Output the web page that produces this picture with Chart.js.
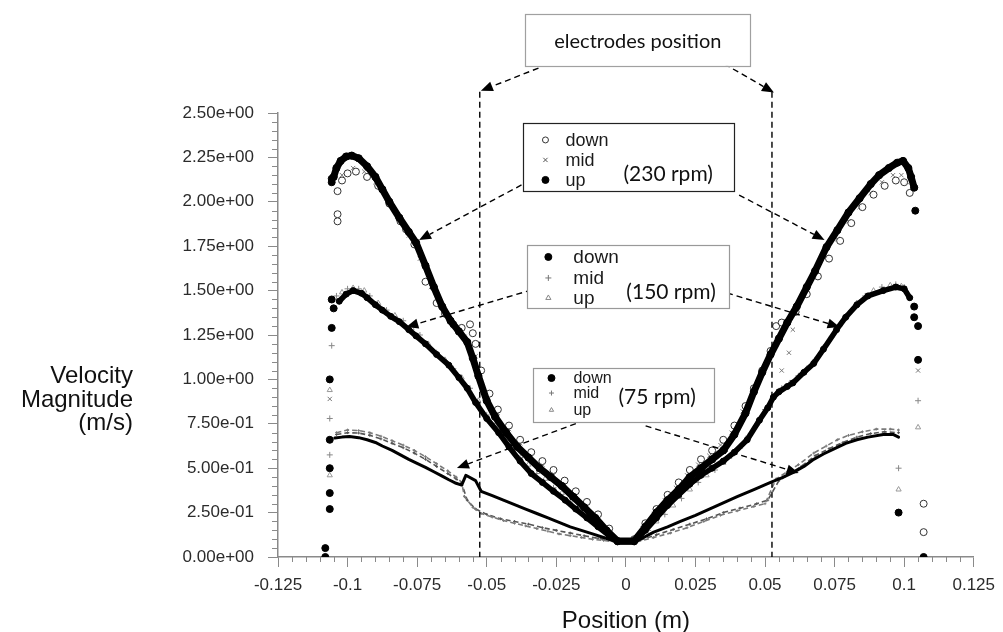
<!DOCTYPE html>
<html>
<head>
<meta charset="utf-8">
<script src="https://cdn.jsdelivr.net/npm/chart.js@4.4.0/dist/chart.umd.min.js"></script>
<style>
  html, body { margin: 0; padding: 0; background: #fff; }
  #wrap { position: relative; width: 1003px; height: 632px; }
</style>
</head>
<body>
<div id="wrap"><canvas id="velocityChart"></canvas></div>
<script>
// ---- axis ticks ----
const xTickLabels = ['-0.125', '-0.1', '-0.075', '-0.05', '-0.025', '0', '0.025', '0.05', '0.075', '0.1', '0.125'];
const yTickLabels = ['0.00e+00', '2.50e-01', '5.00e-01', '7.50e-01', '1.00e+00', '1.25e+00', '1.50e+00', '1.75e+00', '2.00e+00', '2.25e+00', '2.50e+00'];

// ---- 230 rpm ----
const up230 = [
  [-0.1050, 2.14], [-0.1040, 2.19], [-0.1025, 2.23], [-0.1005, 2.255], [-0.0985, 2.26], [-0.096, 2.245],
  [-0.093, 2.20], [-0.090, 2.14], [-0.0875, 2.07], [-0.085, 2.00], [-0.0814, 1.91], [-0.078, 1.83],
  [-0.0754, 1.77], [-0.072, 1.64], [-0.069, 1.52], [-0.066, 1.41], [-0.063, 1.33], [-0.060, 1.27],
  [-0.057, 1.21], [-0.055, 1.12], [-0.053, 1.02], [-0.050, 0.88], [-0.047, 0.79], [-0.043, 0.70],
  [-0.039, 0.62], [-0.035, 0.56], [-0.031, 0.50], [-0.027, 0.45], [-0.023, 0.40], [-0.019, 0.34],
  [-0.015, 0.28], [-0.011, 0.22], [-0.007, 0.15], [-0.003, 0.09],
  [0.003, 0.09], [0.007, 0.17], [0.011, 0.25], [0.015, 0.32], [0.019, 0.38], [0.023, 0.45],
  [0.027, 0.50], [0.031, 0.55], [0.035, 0.60], [0.039, 0.69], [0.043, 0.81], [0.046, 0.93],
  [0.049, 1.04], [0.052, 1.14], [0.055, 1.23], [0.058, 1.32], [0.0614, 1.41], [0.065, 1.52],
  [0.068, 1.61], [0.0721, 1.745], [0.076, 1.84], [0.080, 1.94], [0.084, 2.02], [0.088, 2.10],
  [0.091, 2.15], [0.0945, 2.19], [0.0975, 2.22], [0.0996, 2.23], [0.1015, 2.19], [0.1025, 2.14],
  [0.1036, 2.08]
];
const up230Edge = [[-0.1057, 2.11], [-0.1057, 2.13], [0.104, 1.95]];
const down230 = [
  [-0.102, 2.12], [-0.100, 2.16], [-0.097, 2.17], [-0.093, 2.14], [-0.089, 2.09], [-0.085, 1.99],
  [-0.081, 1.89], [-0.079, 1.845], [-0.076, 1.76], [-0.072, 1.55], [-0.068, 1.43], [-0.065, 1.37],
  [-0.062, 1.31], [-0.059, 1.29], [-0.056, 1.31], [-0.055, 1.26], [-0.054, 1.20], [-0.052, 1.05],
  [-0.049, 0.92], [-0.046, 0.83], [-0.042, 0.74], [-0.038, 0.66], [-0.034, 0.59], [-0.030, 0.54],
  [-0.026, 0.49], [-0.022, 0.43], [-0.018, 0.37], [-0.014, 0.31], [-0.010, 0.24], [-0.006, 0.16],
  [0.003, 0.10], [0.007, 0.19], [0.011, 0.27], [0.015, 0.35], [0.019, 0.42], [0.023, 0.49],
  [0.027, 0.55], [0.031, 0.60], [0.035, 0.66], [0.039, 0.74], [0.043, 0.85], [0.046, 0.95],
  [0.049, 1.05], [0.052, 1.16], [0.054, 1.30], [0.056, 1.32], [0.061, 1.38], [0.065, 1.48],
  [0.069, 1.58], [0.073, 1.68], [0.077, 1.78], [0.081, 1.88], [0.085, 1.97], [0.089, 2.04],
  [0.093, 2.09], [0.097, 2.12], [0.100, 2.11], [0.102, 2.05]
];
const down230Edge = [[-0.1036, 2.06], [-0.1036, 1.93], [-0.1036, 1.89], [0.107, 0.30], [0.107, 0.14]];
const mid230 = [
  [-0.102, 2.15], [-0.098, 2.19], [-0.094, 2.17], [-0.090, 2.11], [-0.086, 2.02], [-0.082, 1.92],
  [-0.078, 1.81], [-0.074, 1.68], [-0.070, 1.52], [-0.066, 1.40], [-0.062, 1.30], [-0.058, 1.24],
  [-0.054, 1.13], [-0.050, 0.92], [-0.046, 0.81], [-0.042, 0.72], [-0.038, 0.64], [-0.034, 0.57],
  [-0.030, 0.52], [-0.026, 0.46], [-0.022, 0.41], [-0.018, 0.35], [-0.014, 0.29], [-0.010, 0.22],
  [0.006, 0.16], [0.010, 0.24], [0.014, 0.32], [0.018, 0.39], [0.022, 0.46], [0.026, 0.52],
  [0.030, 0.57], [0.034, 0.63], [0.038, 0.70], [0.042, 0.82], [0.046, 0.94], [0.050, 1.07],
  [0.056, 1.05], [0.0586, 1.15], [0.060, 1.28], [0.064, 1.47], [0.068, 1.58], [0.072, 1.69],
  [0.076, 1.79], [0.080, 1.89], [0.084, 1.97], [0.088, 2.05], [0.092, 2.11], [0.096, 2.15],
  [0.099, 2.15], [0.101, 2.11], [-0.1064, 0.89], [0.105, 1.05]
];

// ---- 150 rpm ----
const down150 = [
  [-0.103, 1.44], [-0.1005, 1.48], [-0.098, 1.50], [-0.095, 1.485], [-0.093, 1.46], [-0.090, 1.42],
  [-0.0875, 1.39], [-0.0845, 1.355], [-0.0814, 1.325], [-0.078, 1.28], [-0.0754, 1.245], [-0.072, 1.20],
  [-0.068, 1.14], [-0.0636, 1.08], [-0.060, 1.01], [-0.057, 0.95], [-0.054, 0.87], [-0.050, 0.78],
  [-0.0457, 0.70], [-0.042, 0.62], [-0.038, 0.54], [-0.034, 0.47], [-0.030, 0.42], [-0.026, 0.37],
  [-0.0218, 0.32], [-0.018, 0.27], [-0.014, 0.22], [-0.010, 0.17], [-0.006, 0.12], [-0.003, 0.085],
  [0.003, 0.085], [0.007, 0.15], [0.011, 0.22], [0.015, 0.29], [0.019, 0.35], [0.023, 0.41],
  [0.027, 0.46], [0.031, 0.50], [0.035, 0.54], [0.039, 0.59], [0.0436, 0.66], [0.048, 0.77],
  [0.051, 0.84], [0.053, 0.90], [0.055, 0.93], [0.058, 0.96], [0.060, 0.98], [0.064, 1.04],
  [0.0675, 1.09], [0.071, 1.17], [0.0757, 1.28], [0.079, 1.35], [0.083, 1.42], [0.087, 1.47],
  [0.0925, 1.50], [0.097, 1.52], [0.100, 1.51], [0.102, 1.46]
];
const down150Edge = [[-0.1057, 1.45], [-0.1050, 1.40], [-0.1057, 1.29], [0.1036, 1.41], [0.1036, 1.35], [0.105, 1.30], [0.105, 1.11]];
const mid150 = [
  [-0.104, 1.47], [-0.100, 1.51], [-0.096, 1.51], [-0.092, 1.47], [-0.086, 1.39], [-0.080, 1.33],
  [-0.074, 1.25], [-0.068, 1.15], [-0.062, 1.06], [-0.056, 0.95], [-0.050, 0.80], [-0.044, 0.67],
  [-0.038, 0.56], [-0.032, 0.47], [-0.026, 0.39], [-0.020, 0.31], [-0.014, 0.23], [-0.008, 0.15],
  [0.008, 0.15], [0.014, 0.24], [0.020, 0.33], [0.026, 0.42], [0.032, 0.49], [0.038, 0.57],
  [0.044, 0.68], [0.050, 0.83], [0.056, 0.95], [0.062, 1.02], [0.068, 1.11], [0.074, 1.24],
  [0.080, 1.37], [0.086, 1.47], [0.092, 1.52], [0.097, 1.535], [0.100, 1.52],
  [-0.1057, 1.19], [-0.1064, 0.78], [-0.1064, 0.575], [0.105, 0.88], [0.098, 0.50]
];
const up150 = [
  [-0.102, 1.49], [-0.098, 1.515], [-0.094, 1.50], [-0.089, 1.43], [-0.083, 1.36], [-0.077, 1.29],
  [-0.071, 1.20], [-0.065, 1.11], [-0.059, 1.01], [-0.053, 0.88], [-0.047, 0.74], [-0.041, 0.62],
  [-0.035, 0.52], [-0.029, 0.44], [-0.023, 0.36], [-0.017, 0.28], [-0.011, 0.20], [-0.005, 0.12],
  [0.005, 0.11], [0.011, 0.20], [0.017, 0.29], [0.023, 0.38], [0.029, 0.46], [0.035, 0.53],
  [0.041, 0.62], [0.047, 0.75], [0.053, 0.90], [0.059, 0.98], [0.065, 1.06], [0.071, 1.18],
  [0.077, 1.31], [0.083, 1.43], [0.089, 1.50], [0.095, 1.53], [0.099, 1.525],
  [-0.1064, 0.94], [-0.1064, 0.46], [0.105, 0.73], [0.098, 0.38]
];

// ---- 75 rpm ----
const down75 = [
  [-0.1046, 0.67], [-0.102, 0.675], [-0.0993, 0.678], [-0.096, 0.672], [-0.093, 0.66], [-0.090, 0.645],
  [-0.0875, 0.625], [-0.084, 0.60], [-0.081, 0.575], [-0.078, 0.55], [-0.0754, 0.53], [-0.072, 0.505],
  [-0.069, 0.48], [-0.066, 0.455], [-0.0636, 0.435], [-0.061, 0.415], [-0.059, 0.405], [-0.0575, 0.46],
  [-0.054, 0.43], [-0.052, 0.37], [-0.048, 0.345], [-0.044, 0.32], [-0.040, 0.295], [-0.036, 0.27],
  [-0.032, 0.245], [-0.028, 0.22], [-0.024, 0.195], [-0.020, 0.17], [-0.016, 0.15], [-0.012, 0.13],
  [-0.008, 0.11], [-0.004, 0.09],
  [0.004, 0.09], [0.010, 0.14], [0.015, 0.17], [0.0196, 0.20], [0.025, 0.235], [0.030, 0.27],
  [0.035, 0.305], [0.040, 0.34], [0.046, 0.38], [0.052, 0.42], [0.056, 0.445], [0.060, 0.475],
  [0.064, 0.51], [0.0675, 0.55], [0.071, 0.58], [0.075, 0.61], [0.079, 0.64], [0.083, 0.66],
  [0.087, 0.675], [0.0925, 0.69], [0.096, 0.69], [0.098, 0.675]
];
const down75Edge = [[-0.1064, 1.00], [-0.1064, 0.66], [-0.1064, 0.50], [-0.1064, 0.36], [-0.1064, 0.27], [-0.108, 0.05], [-0.108, 0.0], [0.098, 0.25], [0.107, 0.0]];
const up75 = [
  [-0.104, 0.70], [-0.100, 0.715], [-0.096, 0.712], [-0.092, 0.70], [-0.088, 0.68], [-0.084, 0.655],
  [-0.080, 0.63], [-0.076, 0.60], [-0.072, 0.565], [-0.068, 0.525], [-0.064, 0.485], [-0.061, 0.45],
  [-0.059, 0.42], [-0.058, 0.34], [-0.055, 0.28], [-0.052, 0.245], [-0.048, 0.225], [-0.044, 0.205],
  [-0.040, 0.19], [-0.036, 0.175], [-0.032, 0.16], [-0.028, 0.145], [-0.024, 0.13], [-0.020, 0.12],
  [-0.016, 0.11], [-0.012, 0.10], [-0.008, 0.093], [-0.004, 0.085],
  [0.004, 0.085], [0.010, 0.11], [0.016, 0.135], [0.022, 0.165], [0.028, 0.20], [0.034, 0.235],
  [0.040, 0.26], [0.046, 0.285], [0.050, 0.30], [0.054, 0.44], [0.058, 0.48], [0.062, 0.52],
  [0.0675, 0.585], [0.072, 0.625], [0.076, 0.66], [0.080, 0.685], [0.085, 0.705], [0.090, 0.72],
  [0.095, 0.72], [0.098, 0.715]
];
const mid75 = [
  [-0.104, 0.69], [-0.100, 0.70], [-0.096, 0.698], [-0.092, 0.685], [-0.088, 0.665], [-0.084, 0.64],
  [-0.080, 0.615], [-0.076, 0.585], [-0.072, 0.55], [-0.068, 0.51], [-0.064, 0.47], [-0.061, 0.44],
  [-0.059, 0.415], [-0.057, 0.32], [-0.054, 0.27], [-0.050, 0.24], [-0.045, 0.215], [-0.040, 0.20],
  [-0.035, 0.185], [-0.030, 0.165], [-0.025, 0.15], [-0.020, 0.135], [-0.015, 0.12], [-0.010, 0.105],
  [-0.005, 0.092],
  [0.005, 0.095], [0.011, 0.125], [0.017, 0.155], [0.023, 0.185], [0.029, 0.215], [0.035, 0.25],
  [0.041, 0.275], [0.047, 0.30], [0.051, 0.32], [0.055, 0.43], [0.059, 0.47], [0.063, 0.51],
  [0.068, 0.57], [0.073, 0.61], [0.078, 0.645], [0.083, 0.675], [0.088, 0.695], [0.093, 0.705],
  [0.098, 0.70]
];

// ---- annotation geometry (data units) ----
const electrodeX = [-0.0525, 0.0525];
const electrodeTop = 2.62;

const pts = arr => arr.map(p => ({ x: p[0], y: p[1] }));
const AXIS = '#8a8a8a';
const TXT = '#2b2b2b';

function lineSet(label, data, width, r) {
  return {
    label, data: pts(data), showLine: true, borderColor: '#000', backgroundColor: '#000',
    borderWidth: width, pointRadius: r, pointBorderWidth: 1, pointStyle: 'circle',
    borderJoinStyle: 'round', borderCapStyle: 'round'
  };
}
function markSet(label, data, style, color, r, fill) {
  return {
    label, data: pts(data), showLine: false, pointStyle: style, pointRadius: r,
    borderColor: color, backgroundColor: fill || color, borderWidth: 1
  };
}
function dashSet(label, data, color) {
  return {
    label, data: pts(data), showLine: true, borderColor: color, borderWidth: 1.6,
    borderDash: [5, 3], pointRadius: 1.4, pointBorderWidth: 1, pointStyle: 'cross', backgroundColor: color
  };
}

const overlay = {
  id: 'overlay',
  afterDraw(chart) {
    const { ctx, chartArea: ca, scales: { x, y } } = chart;
    const px = v => x.getPixelForValue(v);
    const py = v => y.getPixelForValue(v);
    ctx.save();

    // minor ticks
    ctx.strokeStyle = AXIS;
    ctx.lineWidth = 1;
    ctx.beginPath();
    for (let i = 0; i <= 50; i++) {
      if (i % 5 === 0) continue;
      const yy = Math.round(py(i * 0.05)) + 0.5;
      ctx.moveTo(ca.left - 6, yy); ctx.lineTo(ca.left, yy);
      const xx = Math.round(px(-0.125 + i * 0.005)) + 0.5;
      ctx.moveTo(xx, ca.bottom); ctx.lineTo(xx, ca.bottom + 5);
    }
    ctx.stroke();

    // axis titles
    ctx.fillStyle = '#111';
    ctx.font = '24px "Liberation Sans", Arial, sans-serif';
    ctx.textAlign = 'right';
    ctx.textBaseline = 'alphabetic';
    ['Velocity', 'Magnitude', '(m/s)'].forEach((t, i) => ctx.fillText(t, ca.left - 145, ca.top + 270 + i * 23.5));
    ctx.textAlign = 'center';
    ctx.fillText('Position (m)', px(0), ca.bottom + 71);

    // electrode lines
    ctx.strokeStyle = '#000';
    ctx.lineWidth = 1.4;
    ctx.setLineDash([6, 4]);
    electrodeX.forEach(v => {
      ctx.beginPath();
      ctx.moveTo(px(v), py(electrodeTop));
      ctx.lineTo(px(v), py(0));
      ctx.stroke();
    });
    ctx.setLineDash([]);

    // boxes
    const box = (x0, y0, x1, y1, color) => {
      const l = px(x0), t = py(y0), r = px(x1), b = py(y1);
      ctx.fillStyle = '#fff';
      ctx.fillRect(l, t, r - l, b - t);
      ctx.strokeStyle = color;
      ctx.lineWidth = 1.2;
      ctx.strokeRect(Math.round(l) + 0.5, Math.round(t) + 0.5, Math.round(r - l), Math.round(b - t));
      return { l, t };
    };

    const arrow = (a, b) => {
      const x0 = px(a[0]), y0 = py(a[1]), x1 = px(b[0]), y1 = py(b[1]);
      const ang = Math.atan2(y1 - y0, x1 - x0);
      const hl = 12, hw = 5;
      ctx.strokeStyle = '#000';
      ctx.fillStyle = '#000';
      ctx.lineWidth = 1.4;
      ctx.setLineDash([6, 4]);
      ctx.beginPath();
      ctx.moveTo(x0, y0);
      ctx.lineTo(x1 - hl * Math.cos(ang), y1 - hl * Math.sin(ang));
      ctx.stroke();
      ctx.setLineDash([]);
      ctx.beginPath();
      ctx.moveTo(x1, y1);
      ctx.lineTo(x1 - hl * Math.cos(ang) + hw * Math.sin(ang), y1 - hl * Math.sin(ang) - hw * Math.cos(ang));
      ctx.lineTo(x1 - hl * Math.cos(ang) - hw * Math.sin(ang), y1 - hl * Math.sin(ang) + hw * Math.cos(ang));
      ctx.closePath();
      ctx.fill();
    };

    // electrodes position label
    arrow([-0.0314, 2.753], [-0.0521, 2.625]);
    arrow([0.0354, 2.776], [0.0532, 2.615]);
    box(-0.0361, 3.057, 0.0446, 2.765, '#a0a0a0');
    ctx.fillStyle = '#111';
    ctx.font = '20px Lato, "Open Sans", sans-serif';
    ctx.textAlign = 'center';
    ctx.textBaseline = 'middle';
    ctx.fillText('electrodes position', px(0.0043), py(2.905));

    // rpm arrows
    arrow([-0.0375, 2.095], [-0.0743, 1.785]);
    arrow([0.0407, 2.038], [0.0714, 1.785]);
    arrow([-0.0304, 1.52], [-0.0789, 1.295]);
    arrow([0.0329, 1.503], [0.0768, 1.295]);
    arrow([-0.0146, 0.771], [-0.0607, 0.501]);
    arrow([0.0071, 0.738], [0.0621, 0.473]);

    // legend boxes
    const drawPt = (style, r, stroke, fill, cx, cy) => {
      ctx.strokeStyle = stroke;
      ctx.fillStyle = fill;
      ctx.lineWidth = 1;
      Chart.helpers.drawPoint(ctx, { pointStyle: style, radius: r, rotation: 0, borderWidth: 1 }, cx, cy);
    };
    const legend = (corners, color, rows, rpm, lay) => {
      const o = box(corners[0], corners[1], corners[2], corners[3], color);
      rows.forEach((row, i) => {
        const cy = o.t + lay.rows[i];
        drawPt(row[1], row[2], row[3], row[4], o.l + lay.mx, cy);
        ctx.fillStyle = '#1a1a1a';
        ctx.font = lay.font;
        ctx.textAlign = 'left';
        ctx.textBaseline = 'middle';
        ctx.fillText(row[0], o.l + lay.tx, cy + 1);
      });
      ctx.fillStyle = '#111';
      ctx.font = '21px Lato, "Open Sans", sans-serif';
      ctx.textAlign = 'left';
      ctx.textBaseline = 'middle';
      ctx.fillText(rpm, o.l + lay.rx, o.t + lay.ry);
    };
    legend([-0.0368, 2.444, 0.0389, 2.061], '#222', [
      ['down', 'circle', 3, '#333', '#fff'],
      ['mid', 'crossRot', 3, '#555', '#555'],
      ['up', 'circle', 3.5, '#000', '#000']
    ], '(230 rpm)', { mx: 22, tx: 42, rows: [17, 37, 57], rx: 100, ry: 51, font: '18px "Liberation Sans", Arial, sans-serif' });
    legend([-0.0354, 1.757, 0.0371, 1.402], '#999', [
      ['down', 'circle', 3.5, '#000', '#000'],
      ['mid', 'cross', 3, '#777', '#777'],
      ['up', 'triangle', 3, '#888', '#fff']
    ], '(150 rpm)', { mx: 21, tx: 46, rows: [12, 33, 53], rx: 99, ry: 47, font: '19px "Liberation Sans", Arial, sans-serif' });
    legend([-0.0332, 1.064, 0.0318, 0.760], '#999', [
      ['down', 'circle', 3.5, '#000', '#000'],
      ['mid', 'cross', 2.5, '#777', '#777'],
      ['up', 'triangle', 2.5, '#888', '#fff']
    ], '(75 rpm)', { mx: 18, tx: 40, rows: [10, 25, 42], rx: 85, ry: 29, font: '16px "Liberation Sans", Arial, sans-serif' });

    ctx.restore();
  }
};

const chart = new Chart(document.getElementById('velocityChart'), {
  type: 'scatter',
  data: {
    datasets: [
      lineSet('up 230', up230, 7, 3.6),
      lineSet('down 150', down150, 5.5, 3),
      lineSet('down 75', down75, 3, 0),
      markSet('up 230 edge', up230Edge, 'circle', '#000', 3.5),
      markSet('down 150 edge', down150Edge, 'circle', '#000', 3.5),
      markSet('down 75 edge', down75Edge, 'circle', '#000', 3.5),
      markSet('down 230', down230, 'circle', '#333', 3.5, 'rgba(255,255,255,0.85)'),
      markSet('down 230 edge', down230Edge, 'circle', '#333', 3.5, '#fff'),
      markSet('mid 230', mid230, 'crossRot', '#777', 3),
      markSet('mid 150', mid150, 'cross', '#888', 3),
      markSet('up 150', up150, 'triangle', '#999', 3, 'rgba(255,255,255,0)'),
      dashSet('up 75', up75, '#7a7a7a'),
      dashSet('mid 75', mid75, '#555')
    ]
  },
  options: {
    responsive: true,
    maintainAspectRatio: false,
    animation: false,
    layout: { padding: { left: 0, top: 113, right: 26, bottom: 0 } },
    plugins: { legend: { display: false }, tooltip: { enabled: false } },
    scales: {
      x: {
        type: 'linear', min: -0.125, max: 0.125,
        afterFit: s => { s.height = 75; },
        afterBuildTicks: s => { s.ticks = xTickLabels.map((t, i) => ({ value: -0.125 + i * 0.025 })); },
        ticks: {
          autoSkip: false, maxRotation: 0, padding: 8, color: TXT,
          font: { family: '"Liberation Sans", Arial, sans-serif', size: 17 },
          callback: (v, i) => xTickLabels[i]
        },
        grid: { drawOnChartArea: false, drawTicks: true, tickLength: 10, color: AXIS, lineWidth: 1 },
        border: { display: true, color: AXIS, width: 1.5 }
      },
      y: {
        type: 'linear', min: 0, max: 2.5,
        afterFit: s => { s.width = 278; },
        afterBuildTicks: s => { s.ticks = yTickLabels.map((t, i) => ({ value: i * 0.25 })); },
        ticks: {
          autoSkip: false, padding: 14, color: TXT,
          font: { family: '"Liberation Sans", Arial, sans-serif', size: 17 },
          callback: (v, i) => yTickLabels[i]
        },
        grid: { drawOnChartArea: false, drawTicks: true, tickLength: 10, color: AXIS, lineWidth: 1 },
        border: { display: true, color: AXIS, width: 1.5 }
      }
    }
  },
  plugins: [overlay]
});
</script>
</body>
</html>
